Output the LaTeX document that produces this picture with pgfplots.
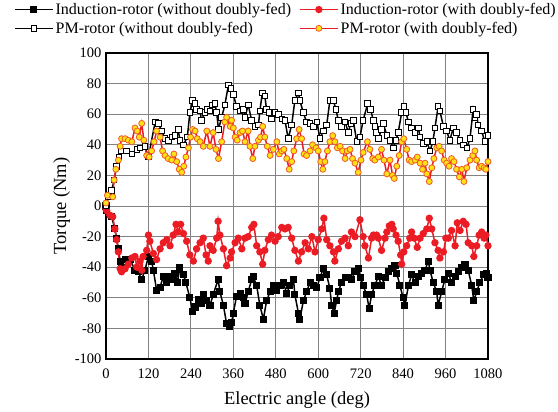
\documentclass[border=0pt]{standalone}
\usepackage{pgfplots}
\pgfplotsset{compat=1.18}
\usepackage{fontspec}
\setmainfont{Liberation Serif}
\definecolor{myred}{RGB}{236,28,36}
\definecolor{myyellow}{RGB}{255,226,20}
\definecolor{myorange}{RGB}{240,90,40}
\definecolor{mygrid}{RGB}{130,130,130}
\begin{document}
\begin{tikzpicture}
\begin{axis}[
  name=ax,
  scale only axis,
  width=382pt, height=306pt,
  xmin=0, xmax=1080, ymin=-100, ymax=100,
  xtick={0,120,...,1080},
  ytick={-100,-80,...,100},
  grid=major,
  major grid style={color=mygrid, line width=0.9pt},
  axis line style={line width=1.2pt, black},
  major tick length=0pt,
  tick label style={font=\fontsize{14.5}{16}\selectfont},
  /pgf/number format/assume math mode=true,
  /pgf/number format/1000 sep={},
  xticklabel style={yshift=-6pt},
  yticklabel style={xshift=-1pt},
  xlabel={Electric angle (deg)},
  ylabel={Torque (Nm)},
  label style={font=\fontsize{18.5}{21}\selectfont},
  xlabel style={yshift=-6pt},
  ylabel style={yshift=-2pt},
  legend columns=2,
  legend cell align=left,
  legend style={draw=none, fill=none, at={(-0.241,1.17)}, anchor=north west,
    font=\fontsize{16}{18}\selectfont, inner sep=0pt,
    /tikz/every even column/.append style={column sep=6pt},
    row sep=2pt},
  legend image code/.code={%
    \draw[mark repeat=2,mark phase=2] plot coordinates {(0pt,0pt) (19pt,0pt) (38pt,0pt)};},
]
% Induction-rotor (without doubly-fed)
\addplot[black, line width=1.5pt, mark=square*, mark size=2.8pt, mark options={fill=black, solid}] coordinates {
(0,0) (2,-3) (16,-7) (25,-15) (30,-21) (35,-28) (40,-36) (44,-40) (54,-35) (68,-35) (82,-42) (91,-43) (101,-48) (110,-42) (120,-33) (129,-36) (134,-42) (143,-55) (153,-53) (162,-46) (172,-50) (181,-46) (190,-48) (195,-44) (202,-50) (209,-40) (219,-45) (226,-50) (237,-60) (245,-69) (252,-66) (261,-61) (270,-64) (275,-58) (285,-62) (294,-65) (303,-58) (317,-48) (322,-56) (332,-65) (341,-77) (349,-79) (355,-76) (360,-70) (369,-59) (379,-57) (388,-60) (393,-64) (402,-56) (412,-48) (416,-46) (426,-52) (435,-65) (445,-74) (454,-62) (464,-56) (473,-52) (483,-55) (492,-52) (501,-50) (511,-57) (520,-52) (530,-48) (534,-58) (544,-70) (548,-74) (558,-62) (567,-56) (577,-50) (586,-52) (596,-53) (605,-47) (614,-41) (624,-45) (633,-54) (638,-65) (645,-70) (652,-62) (657,-56) (666,-50) (676,-47) (685,-47) (694,-48) (704,-43) (713,-41) (720,-47) (727,-52) (737,-58) (744,-67) (751,-58) (760,-52) (770,-46) (779,-52) (789,-47) (798,-43) (808,-41) (817,-39) (822,-44) (831,-52) (840,-60) (845,-65) (855,-52) (864,-45) (874,-50) (883,-46) (892,-44) (902,-42) (911,-36) (916,-42) (925,-50) (935,-56) (939,-65) (949,-56) (958,-48) (968,-44) (977,-50) (987,-46) (996,-43) (1006,-40) (1015,-38) (1024,-42) (1034,-52) (1040,-62) (1048,-56) (1057,-50) (1067,-45) (1076,-44) (1080,-47)
};
\addlegendentry{Induction-rotor (without doubly-fed)}
% Induction-rotor (with doubly-fed)
\addplot[myred, line width=1.5pt, mark=*, mark size=2.9pt, mark options={fill=myred, draw=myred, solid}] coordinates {
(0,-2) (2,-3) (11,-6) (19,-7) (25,-15) (30,-22) (35,-30) (40,-41) (44,-43) (54,-41) (63,-38) (73,-34) (82,-33) (87,-40) (96,-36) (101,-42) (105,-33) (115,-29) (120,-19) (124,-23) (134,-31) (143,-35) (153,-28) (162,-24) (172,-22) (181,-26) (190,-19) (198,-12) (204,-17) (211,-12) (219,-18) (228,-23) (237,-32) (247,-36) (256,-28) (266,-24) (275,-21) (283,-32) (289,-36) (294,-26) (303,-29) (313,-21) (317,-10) (322,-19) (332,-28) (341,-39) (351,-34) (355,-30) (365,-24) (374,-21) (384,-28) (393,-21) (402,-20) (412,-14) (418,-12) (426,-26) (435,-30) (443,-38) (449,-29) (459,-22) (468,-19) (478,-23) (487,-20) (497,-14) (506,-15) (515,-14) (525,-21) (534,-29) (544,-36) (553,-30) (563,-24) (572,-28) (582,-20) (591,-30) (600,-22) (610,-15) (616,-8) (624,-22) (633,-26) (643,-30) (647,-36) (657,-28) (666,-23) (676,-21) (685,-26) (694,-17) (704,-20) (718,-9) (727,-20) (732,-26) (742,-34) (751,-21) (756,-19) (765,-19) (770,-21) (779,-29) (789,-21) (794,-17) (801,-13) (808,-12) (812,-15) (820,-19) (826,-23) (833,-32) (836,-38) (842,-30) (850,-26) (859,-21) (864,-17) (871,-21) (880,-27) (888,-21) (897,-18) (907,-15) (914,-8) (921,-15) (930,-24) (939,-29) (944,-34) (954,-30) (961,-21) (968,-21) (977,-16) (987,-26) (993,-11) (1001,-16) (1010,-10) (1018,-12) (1024,-24) (1034,-26) (1040,-33) (1048,-26) (1055,-19) (1062,-17) (1069,-21) (1074,-19) (1080,-26)
};
\addlegendentry{Induction-rotor (with doubly-fed)}
% PM-rotor (without doubly-fed)
\addplot[black, line width=1.5pt, mark=square*, mark size=2.8pt, mark options={fill=white, draw=black, line width=0.9pt, solid}] coordinates {
(0,0) (7,6) (16,10) (23,17) (30,26) (37,32) (44,36) (58,36) (73,34) (87,37) (96,38) (110,39) (120,32) (139,55) (148,54) (157,49) (167,44) (176,43) (186,45) (195,46) (204,50) (209,43) (219,40) (230,45) (237,61) (245,69) (252,67) (256,63) (266,62) (270,56) (280,61) (286,63) (294,62) (301,66) (308,67) (313,61) (318,50) (327,58) (336,66) (346,79) (353,77) (360,73) (369,65) (379,62) (388,63) (393,58) (402,66) (412,56) (421,52) (431,53) (435,62) (442,74) (449,72) (454,63) (461,61) (468,57) (478,61) (487,60) (497,57) (506,56) (515,44) (525,53) (534,69) (544,74) (548,69) (558,61) (567,55) (577,54) (586,52) (596,55) (605,44) (614,49) (624,53) (633,69) (643,69) (650,63) (657,56) (666,52) (676,55) (685,48) (692,54) (699,56) (709,42) (718,45) (727,56) (740,67) (748,63) (756,56) (760,52) (765,48) (770,44) (779,50) (784,54) (794,46) (803,43) (812,38) (820,43) (826,48) (836,61) (842,65) (848,61) (855,55) (864,51) (874,48) (883,51) (888,45) (897,41) (907,42) (916,36) (924,42) (930,51) (939,65) (944,62) (954,52) (963,49) (972,43) (982,51) (991,48) (1001,43) (1010,40) (1020,38) (1029,44) (1038,63) (1043,58) (1048,60) (1052,53) (1062,49) (1071,42) (1080,46)
};
\addlegendentry{PM-rotor (without doubly-fed)}
% PM-rotor (with doubly-fed)
\addplot[myred, line width=1.5pt, mark=*, mark size=3pt, mark options={fill=myyellow, draw=myorange, line width=0.8pt, solid}] coordinates {
(0,2) (4,7) (19,6) (23,17) (28,24) (35,30) (40,39) (44,44) (54,44) (63,43) (73,42) (82,51) (88,49) (94,45) (101,54) (107,43) (115,33) (122,32) (129,36) (136,42) (143,49) (153,45) (160,36) (167,33) (176,31) (186,30) (192,34) (200,29) (207,24) (214,22) (220,26) (226,32) (233,38) (239,45) (245,50) (252,49) (258,44) (266,42) (275,39) (285,49) (294,39) (303,48) (311,37) (318,31) (327,42) (336,55) (341,58) (351,52) (355,56) (360,51) (365,45) (371,43) (379,48) (386,49) (393,42) (402,49) (407,39) (415,31) (421,39) (431,43) (437,45) (443,52) (449,45) (456,39) (464,33) (473,37) (483,42) (490,34) (497,36) (503,37) (511,31) (518,24) (525,29) (531,36) (539,44) (546,50) (553,44) (560,34) (567,33) (577,36) (584,40) (594,38) (600,36) (607,29) (613,24) (619,29) (626,36) (633,42) (641,46) (647,42) (654,38) (662,39) (669,36) (676,31) (682,36) (690,37) (697,31) (704,28) (713,22) (721,30) (727,35) (739,42) (746,37) (754,31) (760,30) (770,32) (779,37) (786,30) (794,21) (803,30) (810,20) (815,18) (822,26) (829,33) (836,42) (842,44) (850,37) (857,30) (864,29) (874,30) (880,32) (888,28) (895,24) (902,28) (907,21) (914,16) (921,25) (927,31) (935,38) (942,39) (949,36) (956,30) (963,28) (970,26) (977,31) (984,29) (991,24) (999,19) (1006,24) (1012,16) (1020,25) (1029,30) (1037,33) (1043,36) (1048,30) (1055,25) (1062,26) (1069,25) (1074,24) (1080,29)
};
\addlegendentry{PM-rotor (with doubly-fed)}
\end{axis}
\path (ax.south west) ++(-106pt,-53pt) rectangle ++(558pt,412pt);
\end{tikzpicture}
\end{document}
